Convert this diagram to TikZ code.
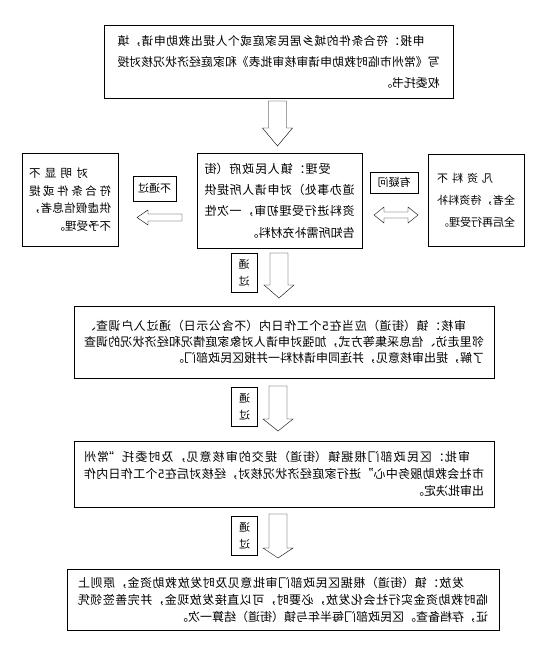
\documentclass[tikz,border=0pt]{standalone}
\usepackage{fontspec}
\setmainfont{Noto Sans CJK SC}
\usepackage{tikz}
\usetikzlibrary{positioning}
\XeTeXlinebreaklocale "zh"
\XeTeXlinebreakskip=0pt plus 2pt
\tolerance=10000
\setlength{\parindent}{0pt}

% mirrored boxes, as in the scanned chart
\tikzset{
  box/.style={draw, thin, xscale=-1, align=justify, inner sep=0pt},
  tag/.style={draw, thin, xscale=-1, align=center, inner sep=0pt, font=\fontsize{11}{17}\selectfont},
  blk/.style={draw, thin, fill=white, line join=miter},
}
\newcommand{\downblock}[4]{%
  \draw[blk] ({#1-9},#2) -- ({#1+9},#2) -- ({#1+9},#3) -- ({#1+15},#3)
    -- (#1,#4) -- ({#1-15},#3) -- ({#1-9},#3) -- cycle;}

\begin{document}
\begin{tikzpicture}[x=1pt, y=-1pt]
	\useasboundingbox (0,0) rectangle (540,645);

	\node[box, minimum width=349, minimum height=73, text width=322, font=\fontsize{11.8}{21}\selectfont] (shenbao) at (278.5,61.5)
	  {\hspace*{15pt}申报：符合条件的城乡居民家庭或个人提出救助申请，填\linebreak 写《常州市临时救助申请审核审批表》和家庭经济状况核对授\linebreak 权委托书。};

	\node[box, minimum width=165, minimum height=95, text width=150, font=\fontsize{12}{21.3}\selectfont] (shouli) at (279.5,200.5)
	  {\hspace*{2em}受理：镇人民政府（街\linebreak 道办事处）对申请人所提供\linebreak 资料进行受理初审，一次性\linebreak 告知所需补充材料。\par\vspace*{-9pt}};

	\node[box, minimum width=96, minimum height=93, text width=82, font=\fontsize{11.5}{17.5}\selectfont] (buyu) at (70,199.5)
	  {\hspace*{2em}对明显不\linebreak 符合条件或提\linebreak 供虚假信息者，\linebreak 不予受理。\par\vspace*{13pt}};

	\node[box, minimum width=96, minimum height=92, text width=78, font=\fontsize{11}{22}\selectfont] (buquan) at (476,200)
	  {\hspace*{2em}凡资料不\linebreak 全者，待资料补\linebreak 全后再行受理。\par\vspace*{11pt}};

	\node[box, minimum width=420, minimum height=72, text width=400, font=\fontsize{12}{16}\selectfont] (shenhe) at (284,342)
	  {\hspace*{18pt}审核：镇（街道）应当在5个工作日内（不含公示日）通过入户调查、\linebreak 邻里走访、信息采集等方式，加强对申请人对象家庭情况和经济状况的调查\linebreak 了解，提出审核意见，并连同申请材料一并报区民政部门。\par\vspace*{18pt}};

	\node[box, minimum width=420, minimum height=66, text width=400, font=\fontsize{12}{17}\selectfont] (shenpi) at (284,474)
	  {\hspace*{14pt}审批：区民政部门根据镇（街道）提交的审核意见，及时委托“常州\linebreak 市社会救助服务中心”进行家庭经济状况核对，经核对后在5个工作日内作\linebreak 出审批决定。};

	\node[box, minimum width=432, minimum height=61, text width=410, font=\fontsize{12}{17}\selectfont] (fafang) at (283,599.5)
	  {\hspace*{2em}发放：镇（街道）根据区民政部门审批意见及时发放救助资金，原则上\linebreak 临时救助资金实行社会化发放，必要时，可以直接发放现金，并完善签领凭\linebreak 证，存档备查。区民政部门每半年与镇（街道）结算一次。};

	% labels beside the block arrows
	\node[tag, minimum width=43, minimum height=25] (butongguo) at (154.5,188.5) {不通过};
	\node[tag, minimum width=48, minimum height=21] (youyiwen) at (394,182.5) {有疑问};
	\node[tag, minimum width=26, minimum height=39] (tongguo1) at (244,272.5) {通\\过};
	\node[tag, minimum width=26, minimum height=39] (tongguo2) at (244.5,406.5) {通\\过};
	\node[tag, minimum width=26, minimum height=39] (tongguo3) at (244.5,535.5) {通\\过};

	% block arrows
	\downblock{277.5}{101}{128}{146}
	\downblock{279}{253}{285}{298}
	\downblock{278}{386}{419}{431}
	\downblock{278}{514}{548}{558}
	\draw[blk] (182,214) -- (148,214) -- (148,210) -- (137,217.5) -- (148,225) -- (148,221) -- (182,221) -- cycle;
	\draw[blk] (374,215) -- (384,207) -- (384,212) -- (408,212) -- (408,207) -- (418,215)
	  -- (408,223) -- (408,218) -- (384,218) -- (384,223) -- cycle;
\end{tikzpicture}
\end{document}
